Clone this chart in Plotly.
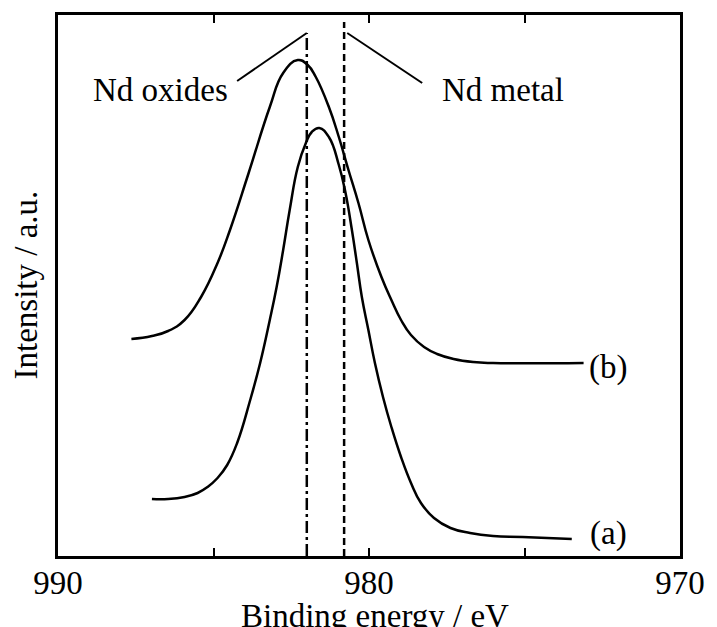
import plotly.graph_objects as go

# Binding energy (eV) and intensity (a.u.)
be_b = [987.64, 986.98, 986.46, 985.93, 985.40, 984.87, 984.47, 983.87, 983.19, 982.76,
        982.29, 981.97, 981.71, 981.29, 980.97, 980.66, 980.34, 980.02, 979.60, 979.28,
        978.97, 978.65, 978.23, 977.81, 977.28, 976.65, 976.01, 973.10]
int_b = [217, 220, 225, 236, 259, 293, 326, 383, 449, 483,
         496, 491, 479, 449, 419, 386, 353, 316, 279, 256,
         236, 221, 209, 202, 197, 194, 193, 193]

be_a = [986.98, 986.46, 985.93, 985.51, 985.19, 984.87, 984.56, 984.24, 983.82, 983.50,
        983.19, 982.97, 982.76, 982.55, 982.29, 982.03, 981.84, 981.60, 981.29, 980.97,
        980.76, 980.55, 980.39, 980.23, 980.02, 979.81, 979.55, 979.28, 978.97, 978.65,
        978.33, 977.91, 977.38, 976.75, 976.01, 975.06, 973.48]
int_a = [57, 57, 59, 63, 69, 78, 91, 113, 156, 193,
         236, 269, 306, 346, 389, 413, 424, 428, 419, 391,
         364, 326, 293, 259, 226, 193, 159, 129, 99, 73,
         53, 38, 28, 23, 20, 19, 17]

oxide_be = 982.0
metal_be = 980.8
oxide_top = 523
metal_top = 534

x_ticks = [990, 985, 980, 975, 970]
x_tick_text = ["990", "", "980", "", "970"]

FONT = "Liberation Serif, Times New Roman, serif"
FS = 33
fig = go.Figure()

line_style = dict(color="black", width=2.5, shape="spline", smoothing=1.3)
fig.add_trace(go.Scatter(x=be_b, y=int_b, mode="lines", line=line_style, showlegend=False))
fig.add_trace(go.Scatter(x=be_a, y=int_a, mode="lines", line=line_style, showlegend=False))

# reference lines
fig.add_trace(go.Scatter(x=[oxide_be, oxide_be], y=[0, oxide_top], mode="lines",
                         line=dict(color="black", width=2.5, dash="12px,4px,3px,4px"), showlegend=False))
fig.add_trace(go.Scatter(x=[metal_be, metal_be], y=[0, metal_top], mode="lines",
                         line=dict(color="black", width=2.5, dash="7px,4px"), showlegend=False))

# leader lines
fig.add_trace(go.Scatter(x=[984.24, oxide_be], y=[475, oxide_top], mode="lines",
                         line=dict(color="black", width=2), showlegend=False))
fig.add_trace(go.Scatter(x=[980.70, 978.29], y=[523, 473], mode="lines",
                         line=dict(color="black", width=2), showlegend=False))

annos = [
    dict(x=986.7, y=466, text="Nd oxides"),
    dict(x=975.7, y=466, text="Nd metal"),
    dict(x=972.3, y=189, text="(b)"),
    dict(x=972.3, y=23, text="(a)"),
]
for a in annos:
    fig.add_annotation(x=a["x"], y=a["y"], text=a["text"], showarrow=False,
                       xanchor="center", yanchor="middle",
                       font=dict(family=FONT, size=FS, color="black"))

fig.add_annotation(xref="paper", yref="paper", x=0.51, y=0, yshift=-60,
                   text="Binding energy / eV", showarrow=False,
                   xanchor="center", yanchor="middle",
                   font=dict(family=FONT, size=FS, color="black"))
fig.add_annotation(xref="paper", yref="paper", x=0, y=0.5, xshift=-33,
                   text="Intensity / a.u.", textangle=-90, showarrow=False,
                   xanchor="center", yanchor="middle",
                   font=dict(family=FONT, size=FS, color="black"))

fig.update_xaxes(range=[990, 970], tickvals=x_ticks, ticktext=x_tick_text,
                 ticks="inside", ticklen=8, tickwidth=1.5, tickcolor="black",
                 showline=True, linewidth=3, linecolor="black", mirror="ticks",
                 showgrid=False, zeroline=False, ticklabelstandoff=-5,
                 ticklabeloverflow="allow",
                 tickfont=dict(family=FONT, size=FS, color="black"))
fig.update_yaxes(range=[0, 541], showticklabels=False, ticks="",
                 showline=True, linewidth=3, linecolor="black", mirror=True,
                 showgrid=False, zeroline=False)

fig.update_layout(width=717, height=627, margin=dict(l=58, r=27, t=15, b=71),
                  plot_bgcolor="white", paper_bgcolor="white",
                  font=dict(family=FONT, color="black"))

fig.write_html("out.html")
